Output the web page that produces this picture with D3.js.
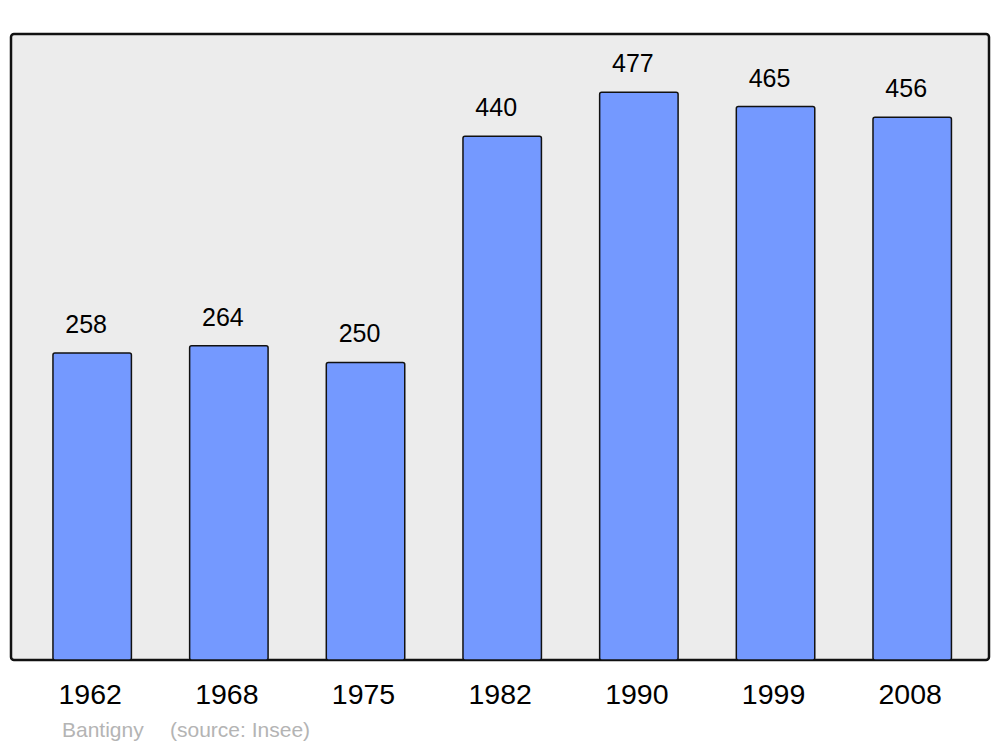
<!DOCTYPE html>
<html>
<head>
<meta charset="utf-8">
<script src="https://cdn.jsdelivr.net/npm/d3@7"></script>
<style>
  body { margin: 0; background: #fff; }
  text { font-family: "Liberation Sans", Arial, sans-serif; }
</style>
</head>
<body>
<svg id="chart" width="1000" height="747"></svg>
<script>
var years = ["1962", "1968", "1975", "1982", "1990", "1999", "2008"];
var population = [258, 264, 250, 440, 477, 465, 456];
var commune = "Bantigny";
var source = "(source: Insee)";

var svg = d3.select("#chart");

var panel = { left: 11, top: 34, right: 989, bottom: 660 };

// background panel
svg.append("rect")
    .attr("x", panel.left)
    .attr("y", panel.top)
    .attr("width", panel.right - panel.left)
    .attr("height", panel.bottom - panel.top)
    .attr("rx", 3)
    .attr("fill", "#ececec")
    .attr("stroke", "#111")
    .attr("stroke-width", 2.5);

var x = d3.scaleBand()
    .domain(years)
    .range([11, 993.4])
    .paddingInner(0.426)
    .paddingOuter(0.307);

var y = d3.scaleLinear()
    .domain([0, 526])
    .range([panel.bottom, panel.top]);

svg.append("g")
    .selectAll("rect")
    .data(population)
    .enter()
    .append("rect")
        .attr("x", function (d, i) { return x(years[i]); })
        .attr("y", function (d) { return y(d); })
        .attr("width", x.bandwidth())
        .attr("height", function (d) { return y(0) - y(d); })
        .attr("rx", 2)
        .attr("fill", "#7499ff")
        .attr("stroke", "#111")
        .attr("stroke-width", 1.5);

// value labels
svg.append("g")
    .selectAll("text")
    .data(population)
    .enter()
    .append("text")
        .attr("x", function (d, i) { return x(years[i]) + x.bandwidth() / 2 - 6; })
        .attr("y", function (d) { return y(d) - 20; })
        .attr("text-anchor", "middle")
        .attr("font-size", 25)
        .text(function (d) { return d; });

// year labels
svg.append("g")
    .selectAll("text")
    .data(years)
    .enter()
    .append("text")
        .attr("x", function (d) { return x(d) + x.bandwidth() / 2 - 2; })
        .attr("y", 704)
        .attr("text-anchor", "middle")
        .attr("font-size", 28.5)
        .text(function (d) { return d; });

svg.append("text")
    .attr("x", 62)
    .attr("y", 737)
    .attr("font-size", 21)
    .attr("fill", "#b4b4b4")
    .text(commune);

svg.append("text")
    .attr("x", 170)
    .attr("y", 737)
    .attr("font-size", 21)
    .attr("fill", "#b4b4b4")
    .text(source);
</script>
</body>
</html>
